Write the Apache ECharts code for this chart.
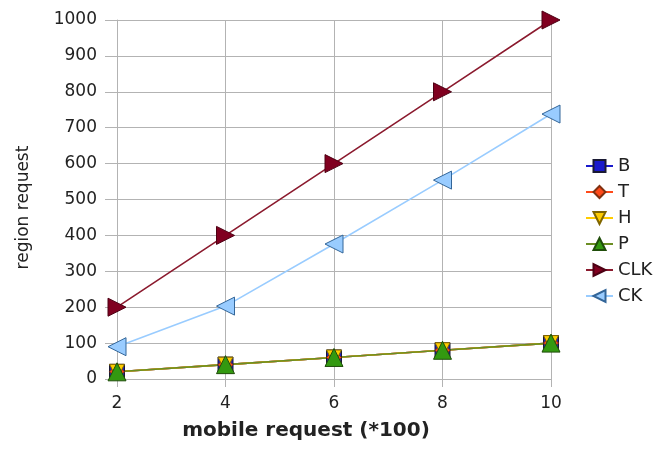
<!DOCTYPE html>
<html>
<head>
<meta charset="utf-8">
<script src="https://cdn.jsdelivr.net/npm/echarts@6/dist/echarts.min.js"></script>
<style>
  html, body { margin: 0; padding: 0; background: #fff; }
  #chart { width: 654px; height: 450px; }
</style>
</head>
<body>
<div id="chart"></div>
<script>
// mobile request (*100)
const mobileRequests = [2, 4, 6, 8, 10];
// region request per scheme
const seriesB   = [20, 40, 60, 80, 100];
const seriesT   = [20, 40, 60, 80, 100];
const seriesH   = [20, 40, 60, 80, 100];
const seriesP   = [20, 40, 60, 80, 100];
const seriesCLK = [200, 400, 600, 800, 1000];
const seriesCK  = [90, 203, 376, 554, 738];

const FONT = '"DejaVu Sans", Verdana, sans-serif';
const pairs = vals => mobileRequests.map((x, i) => [x, vals[i]]);

function makeSeries(name, vals, symbol, rotate, size, fill, border, lineColor) {
  return {
    name,
    type: 'line',
    data: pairs(vals),
    symbol,
    symbolRotate: rotate,
    symbolSize: size,
    showAllSymbol: true,
    lineStyle: { color: lineColor, width: 1.6 },
    itemStyle: { color: fill, borderColor: border, borderWidth: 1 },
    emphasis: { disabled: true },
    z: 2
  };
}

const chart = echarts.init(document.getElementById('chart'), null, { renderer: 'canvas' });
chart.setOption({
  animation: false,
  backgroundColor: '#ffffff',
  textStyle: { fontFamily: FONT },
  grid: { left: 117, right: 103, top: 20, bottom: 71 },
  legend: {
    orient: 'vertical',
    left: 580,
    top: 152,
    itemGap: 8,
    itemWidth: 27,
    itemHeight: 15,
    textStyle: { fontSize: 18, color: '#222', fontFamily: FONT },
    data: ['B', 'T', 'H', 'P', 'CLK', 'CK']
  },
  xAxis: {
    type: 'value',
    min: 2, max: 10, interval: 2,
    name: 'mobile request (*100)',
    nameLocation: 'middle',
    nameGap: 42,
    nameTextStyle: { fontSize: 20, fontWeight: 'bold', color: '#222', fontFamily: FONT, padding: [0, 56, 0, 0] },
    axisLine: { show: true, lineStyle: { color: '#b3b3b3' } },
    axisTick: { show: true, length: 8, lineStyle: { color: '#b3b3b3' } },
    axisLabel: { fontSize: 17, color: '#222', margin: 16, fontFamily: FONT },
    splitLine: { show: true, lineStyle: { color: '#b3b3b3' } }
  },
  yAxis: {
    type: 'value',
    min: 0, max: 1000, interval: 100,
    name: 'region request',
    nameLocation: 'middle',
    nameGap: 85,
    nameRotate: 90,
    nameTextStyle: { fontSize: 17, color: '#222', fontFamily: FONT, padding: [0, 16, 0, 0] },
    axisLine: { show: true, lineStyle: { color: '#b3b3b3' } },
    axisTick: { show: true, length: 12, lineStyle: { color: '#b3b3b3' } },
    axisLabel: { fontSize: 17, color: '#222', margin: 20, fontFamily: FONT, formatter: v => String(v) },
    splitLine: { show: true, lineStyle: { color: '#b3b3b3' } }
  },
  series: [
    makeSeries('B', seriesB, 'rect', 0, 15, '#1a1acc', '#1a1a33', '#1a1acc'),
    makeSeries('T', seriesT, 'diamond', 0, 15, '#ff4a1a', '#803010', '#ff4a1a'),
    makeSeries('H', seriesH, 'triangle', 180, 15, '#ffcc00', '#806600', '#ffcc00'),
    makeSeries('P', seriesP, 'triangle', 0, 18, '#339910', '#1f4d0a', '#6b8e23'),
    makeSeries('CLK', seriesCLK, 'triangle', -90, 18, '#800020', '#4d0013', '#8b1a2e'),
    makeSeries('CK', seriesCK, 'triangle', 90, 18, '#99ccff', '#336699', '#99ccff')
  ]
});
</script>
</body>
</html>
